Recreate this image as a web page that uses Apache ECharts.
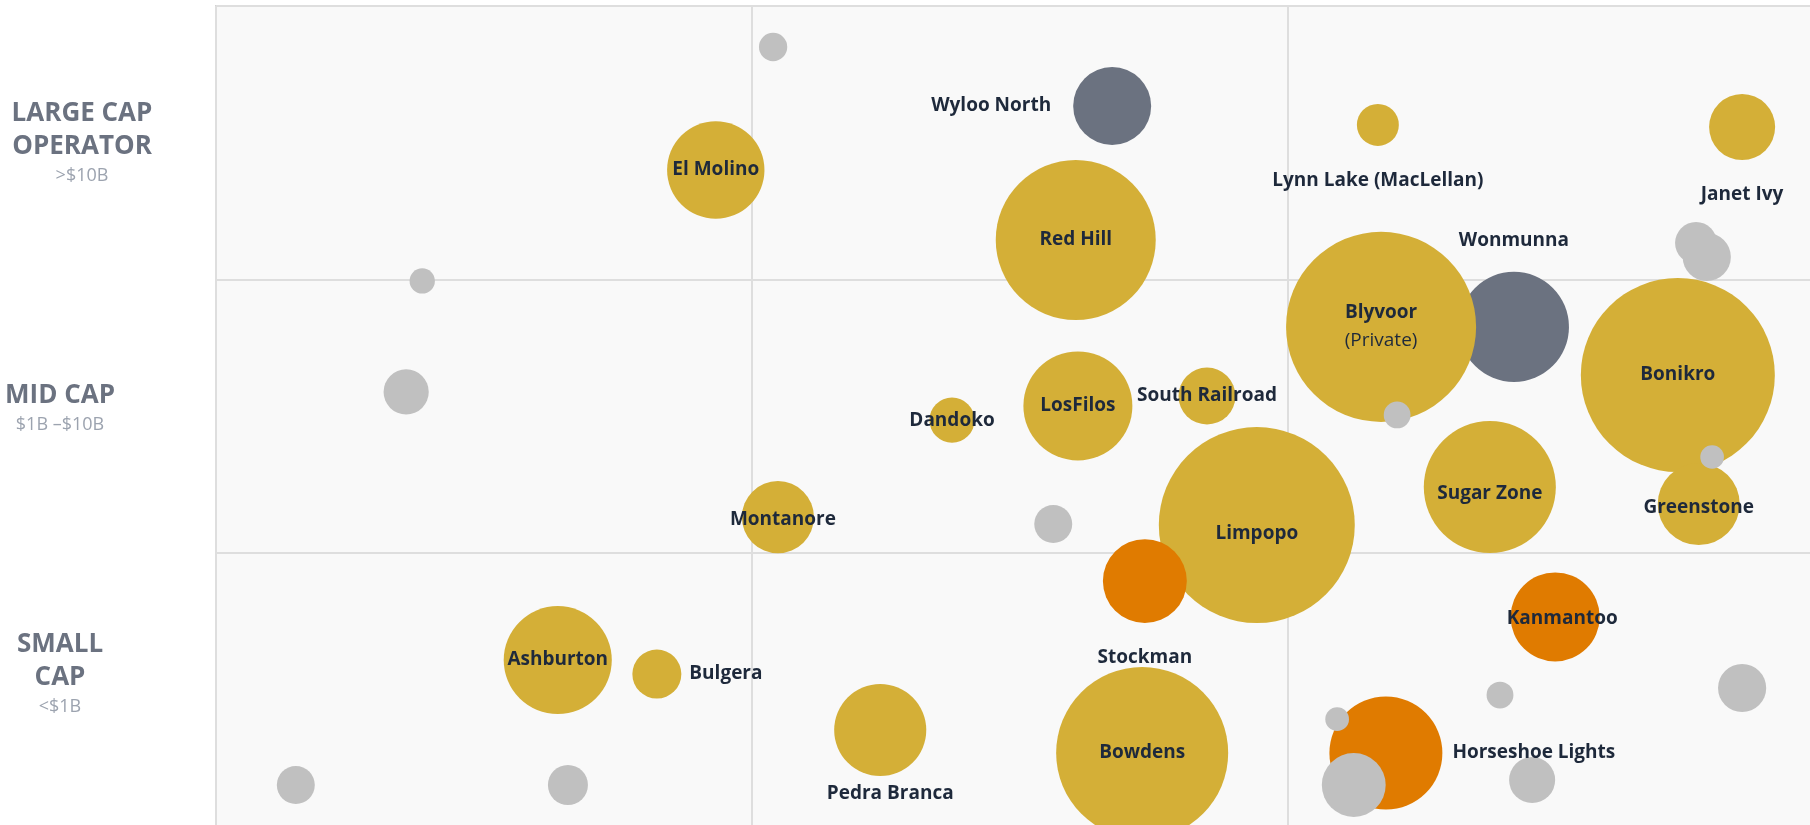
<!DOCTYPE html>
<html>
<head>
<meta charset="utf-8">
<script src="https://cdn.jsdelivr.net/npm/echarts@6/dist/echarts.min.js"></script>
<style>
  html, body { margin: 0; padding: 0; background: #fff; }
  #chart { width: 1810px; height: 825px; }
</style>
</head>
<body>
<div id="chart"></div>
<script>
// each row: [project, x, y, size]
const ironOreProjects = [
  ["Wyloo North", 1.673, 2.634, 15.2],
  ["Wonmunna", 2.423, 1.826, 30.3],
];

const goldProjects = [
  ["El Molino", 0.933, 2.4, 23.7],
  ["Red Hill", 1.605, 2.144, 64],
  ["Lynn Lake (MacLellan)", 2.169, 2.565, 4.4],
  ["Janet Ivy", 2.849, 2.557, 10.9],
  ["Blyvoor", 2.175, 1.826, 90.3],
  ["Bonikro", 2.729, 1.65, 94.1],
  ["Greenstone", 2.768, 1.178, 16.8],
  ["Sugar Zone", 2.378, 1.24, 43.6],
  ["South Railroad", 1.85, 1.573, 8.1],
  ["LosFilos", 1.609, 1.537, 29.7],
  ["Dandoko", 1.374, 1.485, 5.1],
  ["Limpopo", 1.943, 1.101, 96],
  ["Bowdens", 1.729, 0.267, 74],
  ["Montanore", 1.049, 1.13, 13],
  ["Ashburton", 0.638, 0.607, 29.2],
  ["Bulgera", 0.823, 0.556, 6],
  ["Pedra Branca", 1.24, 0.351, 21.2],
];

const copperProjects = [
  ["Stockman", 1.734, 0.896, 17.6],
  ["Kanmantoo", 2.5, 0.765, 19.8],
  ["Horseshoe Lights", 2.184, 0.267, 31.9],
];

// unnamed peers: [x, y, size]
const otherProjects = [
  [1.04, 2.85, 2.0],
  [2.763, 2.133, 4.4],
  [2.783, 2.082, 5.8],
  [2.205, 1.504, 1.8],
  [2.793, 1.35, 1.4],
  [1.563, 1.105, 3.6],
  [2.093, 0.391, 1.4],
  [2.124, 0.15, 10.2],
  [2.397, 0.479, 1.8],
  [2.849, 0.505, 5.8],
  [2.457, 0.168, 5.3],
  [0.385, 1.994, 1.6],
  [0.355, 1.588, 5.1],
  [0.149, 0.15, 3.6],
  [0.657, 0.15, 4.0],
];

const tierNames = ["SMALL\nCAP", "MID CAP", "LARGE CAP\nOPERATOR"];
const tierRanges = ["<$1B", "$1B –$10B", ">$10B"];
const privateProjects = ["Blyvoor"];

const FONT = '"Open Sans", sans-serif';
const INK = "#1e293b";

// where a label sits when it is not centred in its bubble
const labelSpots = {
  "Wyloo North": { position: "left", distance: 22 },
  "Lynn Lake (MacLellan)": { position: "bottom", distance: 24 },
  "Janet Ivy": { position: "bottom", distance: 23 },
  "Wonmunna": { position: "top", distance: 20 },
  "Stockman": { position: "bottom", distance: 24 },
  "Horseshoe Lights": { position: "right", distance: 10 },
  "Bulgera": { position: "right", distance: 8 },
  "Pedra Branca": { position: "bottom", distance: 6, offset: [10, 0] },
  "Limpopo": { offset: [0, 9] },
  "Sugar Zone": { offset: [0, 7] },
  "Kanmantoo": { offset: [7, 2] },
  "Montanore": { offset: [5, 2] },
  "Greenstone": { offset: [0, 4] },
};

function bubbleSeries(name, rows, color) {
  return {
    type: "scatter",
    name: name,
    data: rows.map((r) => ({
      name: r[0],
      value: [r[1], r[2], r[3]],
      label: labelSpots[r[0]] || {},
    })),
    symbolSize: (val) => Math.sqrt(val[2]) * 20,
    itemStyle: { color: color, opacity: 1 },
    label: {
      show: true,
      position: "inside",
      color: INK,
      fontFamily: FONT,
      fontWeight: 700,
      fontSize: 19,
      lineHeight: 22,
      formatter: (p) =>
        privateProjects.includes(p.name)
          ? "{n|" + p.name + "}\n{p|(Private)}"
          : p.name,
      rich: {
        n: { fontFamily: FONT, fontWeight: 700, fontSize: 19, color: INK, lineHeight: 28 },
        p: { fontFamily: FONT, fontWeight: 400, fontSize: 19, color: INK, lineHeight: 28 },
      },
    },
    emphasis: { disabled: true },
  };
}

const chart = echarts.init(document.getElementById("chart"));

chart.setOption({
  animation: false,
  backgroundColor: "#ffffff",
  grid: {
    left: 216,
    top: 6,
    width: 1607,
    height: 820,
    outerBoundsMode: "none",
    containLabel: false,
    show: true,
    backgroundColor: "#f9f9f9",
    borderColor: "#d2d2d2",
    borderWidth: 2,
  },
  xAxis: {
    type: "value",
    min: 0,
    max: 3,
    interval: 1,
    axisLine: { show: false },
    axisTick: { show: false },
    axisLabel: { show: false },
    splitLine: { lineStyle: { color: "#dedede", width: 2 } },
  },
  yAxis: [
    {
      type: "value",
      min: 0,
      max: 3,
      interval: 1,
      axisLine: { show: false },
      axisTick: { show: false },
      axisLabel: { show: false },
      splitLine: { lineStyle: { color: "#dedede", width: 2 } },
    },
    {
      type: "category",
      position: "left",
      boundaryGap: true,
      data: tierNames.map((t, i) => ({
        value: t,
        textStyle: { align: "right", padding: [0, i < 2 ? 22 : 0, [30, 15, 0][i], 0] },
      })),
      axisLine: { show: false },
      axisTick: { show: false },
      splitLine: { show: false },
      axisLabel: {
        align: "right",
        margin: 49,
        formatter: (value, idx) =>
          value
            .split("\n")
            .map((line) => "{t|" + line + "}")
            .join("\n") +
          "\n{s|" + tierRanges[idx] + "}",
        rich: {
          t: { width: 170, align: "center", fontFamily: FONT, fontWeight: 700, fontSize: 26, color: "#6b7280", lineHeight: 33 },
          s: { width: 170, align: "center", fontFamily: FONT, fontWeight: 400, fontSize: 18, color: "#9ca3af", lineHeight: 26 },
        },
      },
    },
  ],
  series: [
    bubbleSeries("Iron ore", ironOreProjects, "#6b7280"),
    bubbleSeries("Gold", goldProjects, "#d4af37"),
    bubbleSeries("Copper", copperProjects, "#e07b00"),
    bubbleSeries(
      "Other",
      otherProjects.map((r) => ["", r[0], r[1], r[2]]),
      "#c0c0c0"
    ),
  ],
});

window.addEventListener("resize", () => {
  chart.resize();
});
</script>
</body>
</html>
